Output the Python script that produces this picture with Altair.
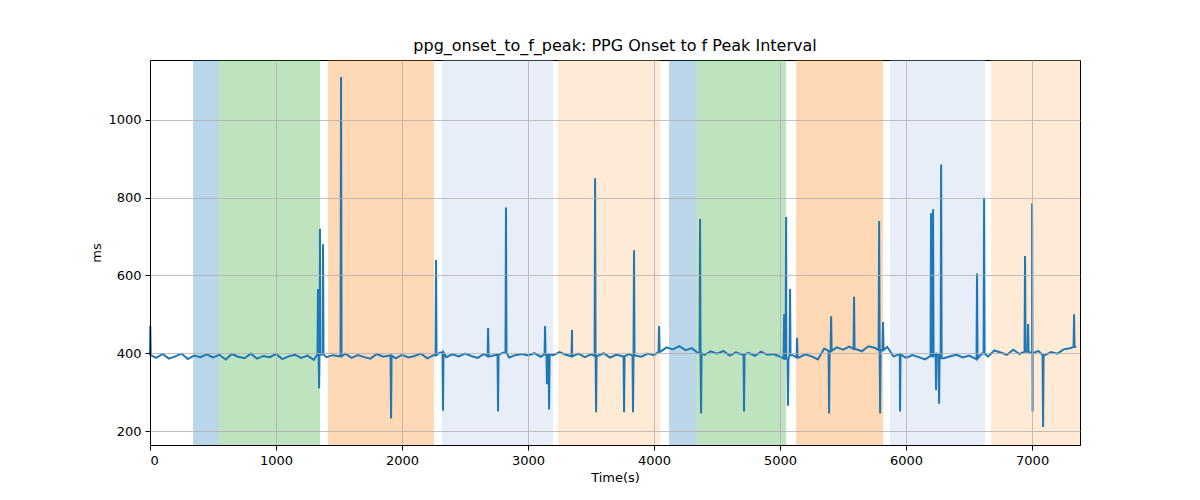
import altair as alt
import pandas as pd

span_start = [341, 548, 1413, 2317, 3238, 4119, 4333, 5127, 5873, 6675]
span_end = [548, 1349, 2254, 3198, 4048, 4333, 5048, 5817, 6627, 7380]
span_kind = ["a", "b", "c", "d", "e", "a", "b", "c", "d", "e"]
kind_colors = ["#1f77b4", "#2ca02c", "#ff7f0e", "#aec7e8", "#ffbb78"]

base_step = 50
base_vals = [
    395,388,398,386,392,399,385,394,390,397,
    389,396,384,398,391,387,399,386,393,390,
    398,385,392,396,388,394,383,397,390,395,
    392,399,388,395,390,386,398,391,394,387,
    396,389,393,399,387,395,402,390,397,392,
    399,393,388,398,392,396,401,389,395,398,
    394,400,391,397,395,403,396,392,399,390,
    397,393,400,389,396,392,398,394,391,399,
    395,404,415,410,418,408,413,400,396,405,
    399,406,394,402,397,401,393,404,396,398,
    391,386,395,389,397,392,384,412,406,415,
    409,417,411,405,418,414,408,416,392,397,
    388,395,390,384,393,398,387,392,396,389,
    394,386,399,391,407,402,396,409,398,404,
    400,406,395,403,399,410,413,416,
]
spike_t = [2, 1333, 1342, 1349, 1373, 1516, 1913, 2270, 2325, 2683, 2762, 2825,
           3135, 3150, 3167, 3349, 3532, 3540, 3762, 3833, 3841, 4040, 4365, 4373,
           4714, 5032, 5048, 5063, 5079, 5135, 5389, 5405, 5587, 5786, 5794, 5817,
           5952, 6198, 6214, 6238, 6262, 6278, 6563, 6619, 6944, 6968, 7000, 7004,
           7087, 7333]
spike_v = [470, 565, 310, 720, 680, 1110, 232, 640, 252, 465, 250, 775,
           470, 320, 255, 460, 850, 248, 248, 248, 665, 470, 745, 245,
           250, 500, 750, 265, 565, 440, 245, 495, 545, 740, 245, 480,
           250, 760, 770, 305, 270, 885, 605, 800, 650, 475, 785, 250,
           210, 500]

pts = []
for i, v in enumerate(base_vals):
    pts.append((i * base_step, v))
for t, v in zip(spike_t, spike_v):
    b = base_vals[min(round(t / base_step), len(base_vals) - 1)]
    pts.append((t - 4, b))
    pts.append((t, v))
    pts.append((t + 4, b))
pts.sort()
line_df = pd.DataFrame(pts, columns=["t", "v"])
span_df = pd.DataFrame({"s": span_start, "e": span_end, "k": span_kind})

xs = alt.Scale(domain=[0, 7380], nice=False, zero=False)
ys = alt.Scale(domain=[164, 1154], nice=False, zero=False)

rects = alt.Chart(span_df).mark_rect(opacity=0.3).encode(
    x=alt.X("s:Q", scale=xs),
    x2="e:Q",
    color=alt.Color("k:N", scale=alt.Scale(domain=["a","b","c","d","e"], range=kind_colors), legend=None),
)
line = alt.Chart(line_df).mark_line(color="#1f77b4", strokeWidth=2).encode(
    x=alt.X("t:Q", scale=xs, title="Time(s)",
            axis=alt.Axis(values=list(range(0, 7001, 1000)), grid=True, format="d", zindex=1)),
    y=alt.Y("v:Q", scale=ys, title="ms",
            axis=alt.Axis(values=[200, 400, 600, 800, 1000], grid=True, format="d", zindex=1)),
)

chart = alt.layer(rects, line).properties(
    width=930, height=385,
    title=alt.TitleParams("ppg_onset_to_f_peak: PPG Onset to f Peak Interval",
                          fontSize=16, fontWeight="normal", font="DejaVu Sans", offset=6),
    autosize=alt.AutoSizeParams(type="none"),
    padding={"left": 142, "top": 52, "right": 112, "bottom": 47},
).configure_axis(
    gridColor="#b0b0b0", gridOpacity=1, gridWidth=0.8,
    domainColor="black", tickColor="black", labelColor="black",
    labelFont="DejaVu Sans", titleFont="DejaVu Sans", labelFontSize=13,
    titleFontSize=13, titleFontWeight="normal", labelPadding=4,
).configure_view(stroke="black", strokeWidth=1)

chart.save("out.html", embed_options={"renderer": "svg", "actions": False})
